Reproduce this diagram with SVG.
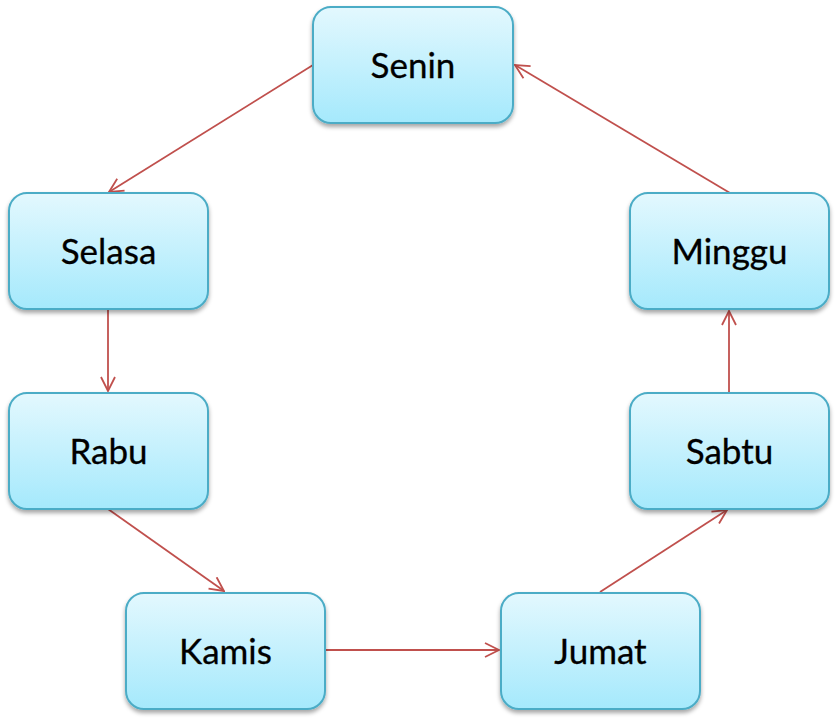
<svg xmlns="http://www.w3.org/2000/svg" width="838" height="721" viewBox="0 0 838 721">
<style>
.box{fill:url(#g);stroke:#4BACC6;stroke-width:2;filter:url(#sh)}
.lbl{font-family:Lato,"Open Sans","Liberation Sans",sans-serif;font-size:35px;fill:#000;text-anchor:middle;stroke:#000;stroke-width:0.3}
.edge{stroke:#C0504D;stroke-width:1.8;fill:none;marker-end:url(#ah)}
</style>
<defs>
<linearGradient id="g" x1="0" y1="0" x2="0" y2="1">
<stop offset="0" stop-color="#E3F8FE"/>
<stop offset="1" stop-color="#A5E9FC"/>
</linearGradient>
<filter id="sh" x="-10%" y="-10%" width="120%" height="130%">
<feDropShadow dx="0" dy="3" stdDeviation="2" flood-color="#000" flood-opacity="0.35"/>
</filter>
<marker id="ah" viewBox="0 0 16 16" refX="15" refY="8" markerWidth="16" markerHeight="16" markerUnits="userSpaceOnUse" orient="auto">
<path d="M1,1 L15,8 L1,15" fill="none" stroke="#C0504D" stroke-width="1.8"/>
</marker>
</defs>
<g id="connectors">
<line class="edge" x1="313" y1="65" x2="109" y2="192"/>
<line class="edge" x1="108" y1="309" x2="108" y2="391"/>
<line class="edge" x1="108" y1="509" x2="224" y2="591"/>
<line class="edge" x1="325" y1="650" x2="499" y2="650"/>
<line class="edge" x1="600" y1="592" x2="727" y2="510"/>
<line class="edge" x1="729" y1="392" x2="729" y2="311"/>
<line class="edge" x1="730" y1="193" x2="515" y2="65"/>
</g>
<g id="senin"><rect class="box" x="313" y="7" width="200" height="116" rx="18"/><text class="lbl" x="413" y="78">Senin</text></g>
<g id="selasa"><rect class="box" x="9" y="193" width="199" height="116" rx="18"/><text class="lbl" x="108.5" y="264">Selasa</text></g>
<g id="minggu"><rect class="box" x="630" y="193" width="199" height="116" rx="18"/><text class="lbl" x="729.5" y="264">Minggu</text></g>
<g id="rabu"><rect class="box" x="9" y="393" width="199" height="116" rx="18"/><text class="lbl" x="108.5" y="464">Rabu</text></g>
<g id="sabtu"><rect class="box" x="630" y="393" width="199" height="116" rx="18"/><text class="lbl" x="729.5" y="464">Sabtu</text></g>
<g id="kamis"><rect class="box" x="126" y="593" width="199" height="116" rx="18"/><text class="lbl" x="225.5" y="664">Kamis</text></g>
<g id="jumat"><rect class="box" x="501" y="593" width="199" height="116" rx="18"/><text class="lbl" x="600.5" y="664">Jumat</text></g>
</svg>
